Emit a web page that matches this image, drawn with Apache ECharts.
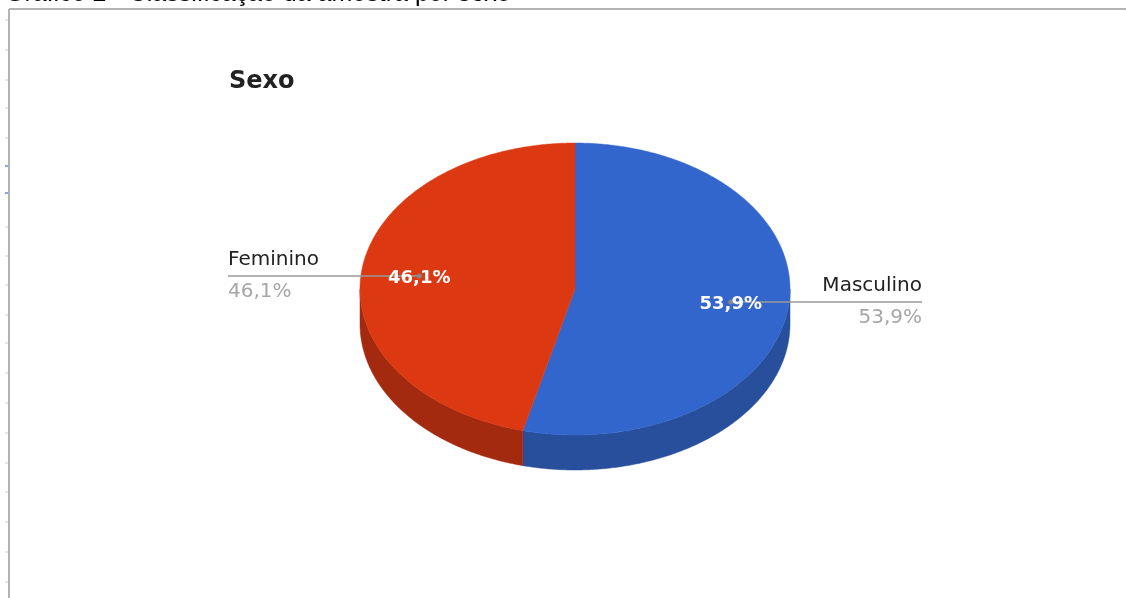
<!DOCTYPE html>
<html>
<head>
<meta charset="utf-8">
<script src="https://cdn.jsdelivr.net/npm/echarts@6/dist/echarts.min.js"></script>
<style>
html,body{margin:0;padding:0;background:#fff;}
#chart{width:1126px;height:598px;}
</style>
</head>
<body>
<div id="chart"></div>
<script>
// ---- data ----
const caption = 'Gráfico 2 - Classificação da amostra por sexo';
const chartTitle = 'Sexo';
const categories = ['Masculino', 'Feminino'];
const values = [53.9, 46.1];
const topColors = ['#3366cc', '#dc3912'];
const sideColors = ['#274f9c', '#a3290f'];

// ---- layout ----
const CX = 575, CY = 289, RX = 215, RY = 146, DEPTH = 35;
const LABEL_R = 0.73, LEADER_EXT = 132;

const total = values.reduce((a, b) => a + b, 0);
const starts = [];
let acc = 0;
values.forEach(v => { starts.push(acc / total * Math.PI * 2); acc += v; });

function pt(theta, f, dy) {
  return [CX + f * RX * Math.sin(theta), CY - f * RY * Math.cos(theta) + (dy || 0)];
}
function arc(a, b, dy) {
  const pts = [];
  const n = Math.max(2, Math.ceil((b - a) / (Math.PI / 360)));
  for (let i = 0; i <= n; i++) pts.push(pt(a + (b - a) * i / n, 1, dy));
  return pts;
}
function fmt(v) { return v.toFixed(1).replace('.', ',') + '%'; }

function renderItem(params, api) {
  const i = params.dataIndex;
  const v = api.value(0);
  const s = starts[i];
  const e = s + v / total * Math.PI * 2;
  const children = [];
  // side wall (front half only)
  const a = Math.max(s, Math.PI / 2), b = Math.min(e, Math.PI * 1.5);
  if (a < b) {
    const pts = arc(a, b, 0).concat(arc(a, b, DEPTH).reverse());
    children.push({ type: 'polygon', z2: 1, shape: { points: pts }, style: { fill: sideColors[i], stroke: sideColors[i], lineWidth: 0.5 } });
  }
  // top face
  children.push({ type: 'polygon', z2: 2, shape: { points: [[CX, CY]].concat(arc(s, e, 0)) }, style: { fill: topColors[i], stroke: topColors[i], lineWidth: 0.5 } });
  // labels
  const mid = (s + e) / 2;
  const p = pt(mid, LABEL_R, 0);
  const right = Math.sin(mid) > 0;
  const endX = CX + (right ? 1 : -1) * (RX + LEADER_EXT);
  children.push({ type: 'line', z2: 3, shape: { x1: p[0], y1: p[1], x2: endX, y2: p[1] }, style: { stroke: '#9a9a9a', lineWidth: 1.5 } });
  children.push({ type: 'circle', z2: 3, shape: { cx: p[0], cy: p[1], r: 2.5 }, style: { fill: '#888' } });
  children.push({ type: 'text', z2: 4, style: { text: fmt(v), x: p[0], y: p[1] + 2, align: 'center', verticalAlign: 'middle', fill: '#ffffff', fontSize: 18, fontWeight: 'bold', fontFamily: 'DejaVu Sans' } });
  children.push({ type: 'text', z2: 4, style: { text: categories[i], x: endX, y: p[1] - 16, align: right ? 'right' : 'left', verticalAlign: 'middle', fill: '#222222', fontSize: 20, fontFamily: 'DejaVu Sans' } });
  children.push({ type: 'text', z2: 4, style: { text: fmt(v), x: endX, y: p[1] + 16, align: right ? 'right' : 'left', verticalAlign: 'middle', fill: '#a6a6a6', fontSize: 20, fontFamily: 'DejaVu Sans' } });
  return { type: 'group', children: children };
}

// decorative ruler ticks on the left edge
const tickYs = [20, 50, 80, 108, 138, 227, 256, 285, 315, 343, 373, 403, 433, 463, 492, 522, 552, 582];
const blueTickYs = [166, 193];
const graphics = [
  { type: 'text', style: { text: caption, x: 5, y: 7, verticalAlign: 'bottom', fill: '#000', fontSize: 25, fontFamily: 'Liberation Sans' } },
  { type: 'line', shape: { x1: 9, y1: 9, x2: 9, y2: 598 }, style: { stroke: '#b3b3b3', lineWidth: 2 } },
  { type: 'line', shape: { x1: 9, y1: 9, x2: 1126, y2: 9 }, style: { stroke: '#b3b3b3', lineWidth: 2 } },
  { type: 'text', left: 229, top: 70, style: { text: chartTitle, fill: '#222', fontSize: 24, fontWeight: 'bold', fontFamily: 'DejaVu Sans' } }
];
tickYs.forEach(y => graphics.push({ type: 'line', shape: { x1: 5, y1: y, x2: 8, y2: y }, style: { stroke: '#cfcfcf', lineWidth: 1 } }));
blueTickYs.forEach(y => graphics.push({ type: 'line', shape: { x1: 5, y1: y, x2: 8, y2: y }, style: { stroke: '#5b8fe0', lineWidth: 1.5 } }));

const chart = echarts.init(document.getElementById('chart'), null, { renderer: 'canvas' });
chart.setOption({
  backgroundColor: '#ffffff',
  animation: false,
  graphic: graphics,
  series: [{
    type: 'custom',
    coordinateSystem: 'none',
    renderItem: renderItem,
    data: values.map((v, i) => ({ name: categories[i], value: [v] }))
  }]
});
</script>
</body>
</html>
